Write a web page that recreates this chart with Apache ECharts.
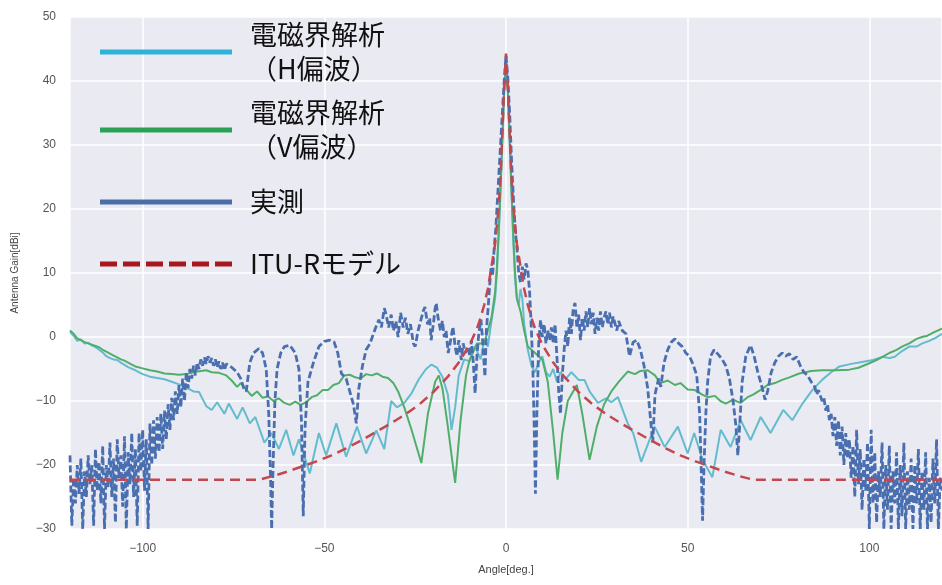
<!DOCTYPE html>
<html><head><meta charset="utf-8">
<script src="https://cdn.jsdelivr.net/npm/echarts/dist/echarts.min.js"></script>
<style>html,body{margin:0;padding:0;background:#fff}#c{width:942px;height:585px}</style>
</head><body><div id="c"></div>
<script>
// ---- data ----
const seriesNames = ['電磁界解析\n（H偏波）', '電磁界解析\n（V偏波）', '実測', 'ITU-Rモデル'];
const xName = 'Angle[deg.]';
const yName = 'Antenna Gain[dBi]';

const hSim = [[-120,0.8],[-119,0.2],[-118,-0.6],[-117,-0.4],[-116,-1],[-115,-0.9],[-114,-1.3],[-113,-1.6],[-112,-2],[-111,-2.4],[-110,-3],[-109,-3.3],[-108,-3.5],[-107,-3.6],[-106,-4],[-104,-4.7],[-102,-5.2],[-100,-5.8],[-98,-6.2],[-96,-6.4],[-94,-6.6],[-92,-7],[-90,-7.4],[-88,-7.9],[-86,-8.5],[-84.5,-8.6],[-82.5,-10.8],[-81,-11.4],[-79.5,-10.2],[-77.5,-12],[-76.3,-10.4],[-74,-12.8],[-72.5,-11],[-70.5,-13.5],[-69,-12.5],[-66.5,-16.5],[-64.6,-15],[-62.5,-17.5],[-60.5,-14.5],[-58.5,-18.5],[-57,-16],[-54,-21.3],[-51.5,-15],[-49.5,-18.5],[-46.7,-13.5],[-44,-18.7],[-41,-14],[-38.5,-18.2],[-35.7,-14.6],[-33.5,-17.5],[-31.6,-10],[-30,-11],[-28,-10.3],[-26,-8.8],[-24,-6.6],[-22,-5],[-20.5,-4.3],[-19,-4.8],[-17.5,-6.2],[-16,-9],[-15,-14.5],[-14,-11],[-13,-6],[-11.5,-3.5],[-10,-3.8],[-8.5,-1.5],[-7,-3.5],[-6,-0.5],[-5,-1.5],[-4,2.5],[-3,6],[-2.5,10],[-2,16],[-1.5,23],[-1,31],[-0.5,38.5],[0,43.5],[0.5,38.5],[1,31],[1.5,23],[2,15],[2.5,9],[3,6],[3.5,5],[4,7.5],[4.5,6],[5,2],[6,-2],[7,-4.5],[8,-5.5],[9,-4],[10,-3],[11,-5.5],[12,-6.2],[13,-5],[14,-7],[15,-5.5],[16.5,-6.5],[18,-5.5],[20,-6.7],[21.6,-6.7],[23,-8.5],[25.3,-10.3],[27.5,-9.6],[29,-10.2],[30.8,-9.4],[33.5,-13.5],[35,-15],[37.2,-19.5],[40.9,-14],[43.7,-17.2],[47.3,-14],[50,-18.2],[51.8,-15],[54.1,-19.2],[56.8,-21.9],[59.1,-14.5],[61.8,-17.2],[64.6,-13],[67.3,-16.1],[70.1,-12.5],[72.8,-15],[76.3,-11.4],[78.8,-13],[81.6,-10.4],[84.3,-8.3],[87,-6.7],[89.5,-5.5],[91.8,-4.6],[95,-4.2],[98,-3.9],[101,-3.6],[103.6,-3.1],[105.5,-3.3],[107,-3.1],[109,-2.2],[111,-1.5],[113,-1.5],[114.6,-1],[116.5,-0.6],[118,-0.2],[120,0.5]];

const vSim = [[-120,1],[-119,0.5],[-118,-0.2],[-117,-0.5],[-116,-0.8],[-115,-1],[-114,-1.2],[-113,-1.4],[-112,-1.6],[-111,-2],[-110,-2.3],[-109,-2.6],[-108,-2.9],[-107,-3.2],[-106,-3.5],[-105,-3.7],[-104,-4],[-103,-4.3],[-102,-4.6],[-100,-4.9],[-98,-5.2],[-96,-5.4],[-94,-5.7],[-92,-5.8],[-90,-5.9],[-88,-5.8],[-86,-5.5],[-84,-5.3],[-82.5,-5.2],[-81,-5.5],[-79,-5.6],[-77,-6],[-75.5,-6.8],[-74,-7.8],[-73,-7.2],[-71.5,-8.2],[-70,-9.2],[-68.5,-8.5],[-67,-9.5],[-65.5,-9.3],[-64,-10],[-62.5,-9.6],[-61,-10.3],[-59.5,-10.6],[-58,-10.1],[-56.5,-10.6],[-55,-10.2],[-53.5,-9.4],[-52,-9.1],[-50.5,-8.3],[-49,-8.3],[-47.5,-7.5],[-46,-7.2],[-44.5,-6],[-43,-5.9],[-41.5,-6.3],[-40,-6.5],[-38.5,-5.8],[-37,-6],[-35.5,-5.7],[-34,-6.2],[-32.5,-6.4],[-31,-7.2],[-29.7,-8.5],[-28,-11],[-26,-14.5],[-23.3,-19.7],[-21.5,-12],[-19.5,-7],[-18.5,-6],[-17.5,-8],[-16,-14],[-14,-22.8],[-12.5,-13],[-11,-6],[-10,-3.5],[-8,-1],[-6,-1],[-5,1],[-4,3],[-3,7],[-2.5,11],[-2,16.5],[-1.5,23.5],[-1,31],[-0.5,38.5],[0,43.5],[0.5,38.5],[1,31],[1.5,23],[2,16],[2.5,10],[3,6],[4,4],[5,1],[6,-1.5],[8,-2.5],[10,-3.5],[11.5,-7],[13,-15],[14.2,-22.3],[15.5,-15],[17,-10],[19.5,-7.5],[21,-12],[23,-19.2],[25,-14],[27,-10.5],[29,-8.5],[31,-7],[33.5,-5.4],[35.5,-5.8],[37,-5.3],[39,-5.2],[41,-6],[42.5,-7.2],[44.5,-6.8],[46.5,-7.5],[48,-7.2],[50,-8.2],[52,-8.3],[54,-9],[55.5,-9.4],[57.5,-9.2],[59,-10],[60.5,-10.4],[62.5,-9.8],[64.5,-10.3],[66.5,-9.4],[68,-9],[70,-8.3],[72,-7.5],[74,-7.2],[76,-6.7],[78,-6.3],[80.7,-5.7],[84,-5.3],[87,-5.2],[91,-5.2],[94.5,-5.1],[97,-4.8],[100,-4.1],[102,-3.6],[104,-3],[105.5,-2.5],[107.5,-2],[109,-1.5],[111,-1],[113,-0.3],[114.5,0],[116,0.2],[118,0.8],[120,1.3]];

const measured = [[-120,-18.5],[-119.5,-29.5],[-119,-22],[-118.5,-26],[-118,-20],[-117.5,-24.5],[-117,-19],[-116.5,-30],[-116,-21],[-115.5,-25],[-115,-18.5],[-114.5,-23],[-114,-20],[-113.5,-29.5],[-113,-17.5],[-112.5,-24],[-112,-19.5],[-111.5,-26],[-111,-17],[-110.5,-30],[-110,-20],[-109.5,-23.5],[-109,-16.5],[-108.5,-25],[-108,-19],[-107.5,-29],[-107,-16],[-106.5,-22],[-106,-18.5],[-105.5,-26.5],[-105,-15.5],[-104.5,-30],[-104,-18],[-103.5,-23],[-103,-15],[-102.5,-25],[-102,-17.5],[-101.5,-29.5],[-101,-15],[-100.5,-21],[-100,-14.5],[-99.5,-24],[-99,-16],[-98.5,-30],[-98,-13.5],[-97.5,-20],[-97,-13],[-96.5,-19],[-96,-12.5],[-95.5,-18],[-95,-12],[-94.5,-17.5],[-94,-11.5],[-93.5,-16],[-93,-10.5],[-92.5,-14.5],[-92,-9.5],[-91.5,-13],[-91,-8.5],[-90.5,-12],[-90,-7.5],[-89.5,-11],[-89,-6.5],[-88.5,-10],[-88,-5.5],[-87.5,-8],[-87,-5],[-86.5,-6.5],[-86,-4.5],[-85.5,-6],[-85,-4],[-84.5,-5],[-84,-3.5],[-83.5,-4.5],[-83,-3.2],[-82.5,-4.2],[-82,-3],[-81.5,-4],[-81,-3.3],[-80.5,-4.5],[-80,-3.5],[-79.5,-4.8],[-79,-3.8],[-78.5,-5],[-78,-4],[-77.5,-5.2],[-77,-4.2],[-76,-4.5],[-75,-5],[-74,-5.5],[-73,-6.5],[-72.2,-8],[-71.5,-8.5],[-70.5,-4],[-69.5,-2.5],[-68,-1.8],[-67,-2.5],[-66,-5],[-65.3,-12],[-64.8,-22],[-64.5,-30],[-64.1,-20],[-63.6,-10],[-63,-5],[-62,-2.5],[-61,-1.5],[-59.5,-1.3],[-58,-2.5],[-57,-5],[-56.3,-13],[-55.8,-28],[-55.3,-14],[-54.5,-7],[-53,-4],[-51.5,-1.5],[-50,-0.7],[-48.5,-0.5],[-47.3,-0.8],[-46.3,-2.5],[-45.3,-5.7],[-44,-6.5],[-43,-8.5],[-42,-10.5],[-41.2,-13.5],[-40.5,-8],[-39.5,-4.5],[-38.5,-2],[-37.4,-1],[-36.5,0.5],[-35.5,2],[-35,2.7],[-34.3,1.5],[-33.5,4.5],[-33,3.5],[-32.3,1.5],[-31.6,3.5],[-31,1],[-30.3,2.5],[-29.7,0],[-29,3.8],[-28.3,1.5],[-27.7,3],[-27,0.5],[-26.3,2],[-25.5,-1],[-25,-1.5],[-24.2,1],[-23.5,2.5],[-22.8,4],[-22.3,4.7],[-21.6,2],[-21,3],[-20.6,-0.5],[-20,2],[-19.5,4.5],[-19.2,5.3],[-18.7,3],[-18,1],[-17.5,2.5],[-17,0],[-16.5,1],[-15.9,-2.5],[-15.4,-1],[-14.6,1.6],[-14,-1.5],[-13.5,-3],[-13,-0.5],[-12.3,-3.6],[-11.8,-1],[-11.2,-2.5],[-10.4,-1.5],[-10,-3],[-9.5,-0.5],[-9,-4],[-8.5,-8.8],[-8,-3],[-7.5,0.5],[-6.9,2.7],[-6.5,0],[-5.8,-6.2],[-5.4,1],[-4.9,4.7],[-4.5,8],[-4.1,11],[-3.7,9.5],[-3.3,13.5],[-2.8,17],[-2.4,21],[-2,25],[-1.5,30],[-1,35],[-0.5,40],[0,44],[0.5,40.5],[1,35],[1.5,28],[2,22],[2.5,17],[3,14],[3.5,10],[4,8.5],[4.5,11],[5,9],[5.5,11.5],[6,10.5],[6.5,7],[7,1],[7.4,-5],[7.8,-15],[8.1,-24.5],[8.5,-12],[9,-1],[9.5,2.7],[10,0],[10.5,2],[11,-1],[11.5,1],[12,-0.5],[12.5,1.5],[13,-1],[13.5,2],[14,-3],[14.5,-8.5],[15,-12],[15.5,-6],[16,-2],[16.5,1],[17,-1.5],[17.5,3],[18,0.5],[18.5,4.5],[19,5.3],[19.5,1.5],[20,3.5],[20.5,-0.5],[21,3],[21.5,1],[22,4],[22.5,1.5],[23,4.5],[23.5,2],[24,3.8],[24.5,0.5],[25,3],[25.5,1],[26,4],[26.5,1.5],[27,3],[27.5,4],[28,2],[28.5,3.8],[29,1.5],[29.5,3.2],[30,3],[30.5,1],[31,2.5],[32,1],[33,0.5],[34,-3],[35,-0.8],[36,-0.5],[37,-2],[38,-4.5],[39,-8],[39.8,-13],[40.4,-16.5],[41,-9],[42,-6.5],[42.6,-7.8],[43.5,-4],[44.5,-2],[45.5,-0.8],[46.5,-0.3],[47.5,-1],[48.5,-1.5],[49.5,-2.5],[50.5,-3],[51.5,-4.3],[52.5,-6],[53.3,-12],[53.8,-22],[54.1,-28.7],[54.5,-20],[55,-12],[55.5,-7],[56.3,-3],[57.3,-2],[58.5,-2.8],[59.5,-3.5],[60.5,-4.5],[61.5,-6.5],[62.5,-10],[63.3,-14],[63.8,-18.5],[64.3,-14],[65,-7],[66,-3],[67.3,-1.3],[68.3,-3],[69.3,-5.5],[70.3,-7.5],[71.3,-9.8],[72,-8.5],[73,-5.5],[74,-4],[75,-3],[76,-2.5],[77,-3],[78,-2.6],[79,-3.5],[80,-3.1],[81,-4.5],[82,-5.5],[83,-6],[84,-7],[85,-7.8],[85.5,-9],[86,-8.3],[87,-10],[87.5,-9.5],[88,-11.5],[88.5,-10.5],[89,-13],[89.5,-12],[90,-15.5],[90.5,-12.5],[91,-17],[91.5,-13],[92,-18.5],[92.5,-14],[93,-20],[93.5,-15],[94,-19],[94.5,-16],[95,-22],[95.5,-17],[96,-25],[96.5,-14.5],[97,-23],[97.5,-17.5],[98,-27],[98.5,-19],[99,-24],[99.5,-16.5],[100,-30],[100.5,-14.5],[101,-26],[101.5,-18],[102,-29],[102.5,-21],[103,-25],[103.5,-16.5],[104,-30],[104.5,-20],[105,-27],[105.5,-17],[106,-30],[106.5,-21],[107,-26],[107.5,-18],[108,-30],[108.5,-20],[109,-28],[109.5,-16.5],[110,-30],[110.5,-21],[111,-27],[111.5,-19],[112,-30],[112.5,-20],[113,-26],[113.5,-17.5],[114,-30],[114.5,-21],[115,-27],[115.5,-18],[116,-30],[116.5,-22],[117,-29],[117.5,-19],[118,-26],[118.5,-16],[119,-30],[119.5,-22],[120,-24]];

const ituModel = [[-120,-22.3],[-68,-22.3],[-64,-21.7],[-60,-21],[-56,-20.2],[-52,-19.4],[-48,-18.5],[-44,-17.4],[-40,-16.2],[-36,-14.9],[-32,-13.6],[-28,-12.2],[-24,-10.6],[-20,-8.6],[-16,-6.2],[-13,-4],[-10,-1.2],[-8,1.3],[-7,3],[-6,5],[-5,7.5],[-4,11],[-3,14.5],[-2,20.5],[-1.5,25],[-1,32],[-0.5,39],[0,44.3],[0.5,39],[1,32],[1.5,25],[2,20.5],[3,14.5],[4,11],[5,7.5],[6,5],[7,3],[8,1.3],[10,-1.2],[13,-4],[16,-6.2],[20,-8.6],[24,-10.6],[28,-12.2],[32,-13.6],[36,-14.9],[40,-16.2],[44,-17.4],[48,-18.5],[52,-19.4],[56,-20.2],[60,-21],[64,-21.7],[68,-22.3],[120,-22.3]];

// ---- styles ----
const colors = ['#62bccd', '#4fae6a', '#4a6fb0', '#c4474f'];
const legendColors = ['#2fb2d8', '#2aa157', '#4a6fa8', '#a8161f'];
const minusFmt = v => String(v).replace('-', '\u2212');

const legendBase = {
  orient: 'horizontal', left: 100, padding: 0, itemWidth: 132, itemHeight: 5,
  selectedMode: false, symbolKeepAspect: false
};
function mkLegend(i, top, padTop, icon) {
  return Object.assign({}, legendBase, {
    top: top,
    data: [{ name: seriesNames[i], icon: icon, itemStyle: { color: legendColors[i] } }],
    textStyle: { fontFamily: 'Noto Sans CJK JP', fontSize: 27, lineHeight: 34, color: '#111', padding: [padTop, 0, 0, 13] }
  });
}
const dashIcon = 'path://M0,0h17v5h-17z M23,0h17v5h-17z M46,0h17v5h-17z M69,0h17v5h-17z M92,0h17v5h-17z M115,0h17v5h-17z';

const chart = echarts.init(document.getElementById('c'), null, { renderer: 'canvas' });
chart.setOption({
  animation: false,
  backgroundColor: '#ffffff',
  grid: { left: 70, right: -3, top: 17, bottom: 56, show: true, backgroundColor: '#EAEAF2', borderWidth: 0 },
  legend: [
    mkLegend(0, 9, 18, 'rect'),
    mkLegend(1, 91, 10, 'rect'),
    mkLegend(2, 185, 0, 'rect'),
    mkLegend(3, 247, 0, dashIcon)
  ],
  xAxis: {
    type: 'value', min: -120, max: 120,
    axisLine: { show: false }, axisTick: { show: false },
    splitLine: { show: true, lineStyle: { color: '#ffffff', width: 1.5 } },
    axisLabel: { color: '#555', fontSize: 12, fontFamily: 'Liberation Sans', margin: 14,
      showMinLabel: false, showMaxLabel: false,
      formatter: v => (v % 50 === 0 ? minusFmt(v) : '') },
    name: xName, nameLocation: 'middle', nameGap: 35,
    nameTextStyle: { color: '#444', fontSize: 11, fontFamily: 'Liberation Sans' }
  },
  yAxis: {
    type: 'value', min: -30, max: 50, interval: 10,
    axisLine: { show: false }, axisTick: { show: false },
    splitLine: { show: true, lineStyle: { color: '#ffffff', width: 1.5 } },
    axisLabel: { color: '#555', fontSize: 12, fontFamily: 'Liberation Sans', margin: 14, formatter: minusFmt },
    name: yName, nameLocation: 'middle', nameGap: 50,
    nameTextStyle: { color: '#444', fontSize: 10, fontFamily: 'Liberation Sans' }
  },
  series: [
    { name: seriesNames[0], type: 'line', data: hSim, symbol: 'none', color: colors[0],
      lineStyle: { width: 2, color: colors[0] }, z: 2 },
    { name: seriesNames[1], type: 'line', data: vSim, symbol: 'none', color: colors[1],
      lineStyle: { width: 2, color: colors[1] }, z: 3 },
    { name: seriesNames[2], type: 'line', data: measured, symbol: 'none', color: colors[2],
      lineStyle: { width: 2.8, color: colors[2], type: [7, 3] }, z: 4 },
    { name: seriesNames[3], type: 'line', data: ituModel, symbol: 'none', color: colors[3],
      lineStyle: { width: 2.5, color: colors[3], type: [10, 6] }, z: 5 }
  ]
});
</script></body></html>
